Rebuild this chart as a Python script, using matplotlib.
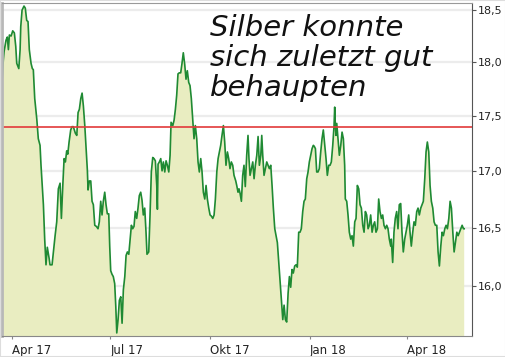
import numpy as np
import pandas as pd
import matplotlib
matplotlib.use("Agg")
import matplotlib.pyplot as plt
from matplotlib.ticker import FixedLocator, FuncFormatter, NullLocator
from matplotlib.patches import Rectangle

# silver price (days counted from 1 Apr 2017)
start = pd.Timestamp("2017-04-01")
days = [
    -9.2, -7.8, -7.1, -5.3, -4.1, -3.1, -2.2, -0.6, 0.9, 2.4, 3.7, 4.6, 6.5, 7.7, 8.3, 9.5,
    11.3, 12.5, 13.8, 15.0, 16.2, 17.8, 19.0, 19.9, 21.2, 23.1, 24.5, 26.1, 27.0, 28.2, 29.2,
    30.4, 31.6, 32.8, 34.4, 35.3, 37.2, 38.4, 40.0, 41.5, 43.0, 44.6, 45.8, 47.1, 48.3, 49.5,
    50.7, 51.7, 52.9, 54.4, 55.6, 56.8, 58.7, 60.0, 61.2, 62.4,
    63.7, 64.9, 66.1, 67.4, 68.6, 69.8, 70.4, 71.6, 72.9, 74.1, 75.3, 76.6, 78.1, 79.6, 80.8,
    82.1, 83.3, 84.5, 85.8, 87.0, 88.2, 89.5, 90.4, 91.3, 92.5, 93.7, 95.0, 96.0, 96.9, 98.1,
    99.3, 100.6, 101.8, 103.0, 104.3, 105.5, 106.7, 108.0, 109.2, 110.4, 111.6, 112.8, 114.0,
    115.3, 116.5, 117.7, 119.0, 120.2, 121.4, 122.7, 123.9, 124.8, 126.4, 127.6, 128.8, 130.1,
    131.3, 132.5, 133.8, 134.4,
    135.0, 136.2, 137.5, 138.7, 139.9, 141.2, 142.4, 143.6, 144.9, 146.1, 147.0, 148.6, 149.8,
    151.0, 152.2, 153.4, 154.6, 155.9, 157.1, 158.3, 159.6, 160.8, 162.0, 163.3, 164.5, 165.7,
    167.0, 168.2, 169.4, 170.7, 171.9, 173.1, 174.4, 175.6, 176.8, 178.1, 179.3, 180.5, 181.8,
    183.0, 184.2, 185.5, 186.7, 187.9, 189.2, 190.4, 191.6, 192.8, 194.0, 195.3, 196.5, 197.7,
    199.0, 200.2, 201.4, 202.6, 203.9, 205.1, 206.7,
    207.6, 208.8, 209.7, 210.7, 211.9, 213.1, 214.3, 215.5, 216.8, 218.0, 218.9, 219.9, 221.1,
    222.4, 223.6, 224.8, 226.1, 227.3, 228.5, 229.8, 230.7, 231.6, 232.8, 234.0, 235.3, 236.5,
    237.7, 239.0, 240.2, 241.4, 242.7, 243.9, 245.1, 246.4, 247.6, 248.8, 250.1, 251.3, 252.5,
    253.7, 255.0, 256.2, 257.4, 258.6, 259.8, 261.1, 262.3, 263.5, 264.8, 266.0, 267.2, 268.5,
    269.7, 270.9, 272.2, 273.4, 274.6, 275.9, 277.1, 278.3,
    279.2, 280.2, 281.4, 282.6, 283.8, 285.1, 286.3, 287.5, 288.8, 290.0, 291.2, 292.5, 293.7,
    294.9, 296.2, 297.4, 298.0, 298.6, 299.2, 299.9, 301.1, 302.3, 303.6, 304.8, 306.0, 307.2,
    307.8, 309.1, 310.3, 311.5, 312.8, 314.0, 315.2, 316.5, 317.7, 318.9, 320.2, 321.4, 322.6,
    323.9, 325.1, 326.3, 327.5, 328.8, 330.0, 331.2, 332.5, 333.7, 334.9, 336.1, 337.4, 338.6,
    339.8, 341.1, 342.3, 343.5, 344.8, 346.0, 347.2, 348.4, 349.7,
    350.2, 351.5, 352.7, 353.9, 355.2, 356.4, 357.6, 358.9, 360.1, 361.3, 362.6, 363.8, 365.0,
    366.3, 367.5, 368.7, 370.0, 371.2, 372.4, 373.7, 374.9, 376.1, 377.4, 378.6, 379.8, 381.1,
    382.3, 383.5, 384.8, 386.0, 387.2, 388.5, 389.7, 390.9, 392.2, 393.4, 394.6, 395.9, 397.1,
    398.3, 399.6, 400.8, 402.0, 403.3, 404.5, 405.7, 407.0, 408.2, 409.4, 410.7, 411.9, 413.1,
    414.4, 415.6, 416.8, 417.5,
]
prices = [
    17.78, 18.02, 18.10, 18.21, 18.24, 18.12, 18.26, 18.25, 18.30, 18.28, 18.15, 17.99, 17.94,
    18.12, 18.34, 18.50, 18.54, 18.52, 18.40, 18.39, 18.12, 17.99, 17.94, 17.93, 17.66, 17.47,
    17.29, 17.23, 17.05, 16.86, 16.70, 16.40, 16.18, 16.33, 16.24, 16.18, 16.18, 16.29, 16.43,
    16.55, 16.84, 16.89, 16.58, 16.87, 17.11, 17.08, 17.18, 17.15, 17.26, 17.37, 17.40, 17.40,
    17.34, 17.32, 17.53, 17.56,
    17.66, 17.71, 17.59, 17.41, 17.20, 17.00, 16.83, 16.91, 16.91, 16.73, 16.70, 16.52, 16.51,
    16.49, 16.55, 16.73, 16.61, 16.73, 16.81, 16.70, 16.62, 16.62, 16.34, 16.13, 16.10, 16.08,
    16.02, 15.83, 15.61, 15.72, 15.88, 15.91, 15.69, 15.97, 16.08, 16.26, 16.29, 16.27, 16.40,
    16.52, 16.49, 16.51, 16.64, 16.58, 16.67, 16.78, 16.81, 16.74, 16.61, 16.67, 16.46, 16.27,
    16.29, 16.61, 16.99, 17.12, 17.11, 17.09, 16.87, 16.66,
    17.06, 17.08, 17.11, 17.00, 17.08, 16.99, 17.09, 17.05, 16.99, 17.14, 17.44, 17.41, 17.46,
    17.56, 17.69, 17.89, 17.90, 17.90, 17.99, 18.09, 17.98, 17.84, 17.92, 17.81, 17.78, 17.66,
    17.47, 17.29, 17.41, 17.29, 17.08, 16.99, 17.11, 16.99, 16.81, 16.75, 16.87, 16.75, 16.67,
    16.61, 16.60, 16.58, 16.61, 16.75, 16.99, 17.11, 17.17, 17.23, 17.32, 17.41, 17.26, 17.05,
    17.17, 17.11, 17.02, 17.08, 17.05, 16.96, 16.91,
    16.87, 16.81, 16.84, 16.80, 16.73, 16.96, 17.05, 16.86, 17.14, 17.32, 17.11, 16.96, 17.02,
    17.08, 16.93, 17.05, 17.14, 17.31, 17.05, 17.14, 17.32, 17.14, 16.96, 17.02, 17.08, 17.05,
    17.02, 17.05, 16.87, 16.67, 16.49, 16.43, 16.37, 16.20, 16.05, 15.88, 15.72, 15.84, 15.72,
    15.70, 15.94, 16.08, 15.99, 16.14, 16.11, 16.17, 16.18, 16.16, 16.46, 16.46, 16.49, 16.64,
    16.73, 16.75, 16.93, 16.99, 17.08, 17.14, 17.20, 17.23,
    17.22, 17.20, 16.99, 16.99, 17.02, 17.17, 17.29, 17.37, 17.23, 17.11, 16.96, 17.05, 17.05,
    17.08, 17.23, 17.41, 17.58, 17.41, 17.32, 17.43, 17.29, 17.14, 17.23, 17.35, 17.29, 17.05,
    16.75, 16.73, 16.61, 16.46, 16.40, 16.43, 16.34, 16.55, 16.58, 16.87, 16.84, 16.70, 16.67,
    16.52, 16.46, 16.64, 16.61, 16.49, 16.52, 16.61, 16.46, 16.52, 16.55, 16.46, 16.49, 16.75,
    16.64, 16.58, 16.61, 16.52, 16.49, 16.52, 16.49, 16.40, 16.34,
    16.40, 16.20, 16.46, 16.58, 16.64, 16.49, 16.70, 16.71, 16.46, 16.29, 16.40, 16.46, 16.52,
    16.61, 16.46, 16.34, 16.46, 16.55, 16.52, 16.64, 16.67, 16.61, 16.67, 16.70, 16.73, 16.93,
    17.17, 17.26, 17.17, 16.87, 16.73, 16.67, 16.55, 16.52, 16.52, 16.29, 16.17, 16.34, 16.46,
    16.43, 16.49, 16.52, 16.49, 16.58, 16.73, 16.67, 16.46, 16.29, 16.37, 16.46, 16.43, 16.46,
    16.49, 16.52, 16.49, 16.49,
]
ref_level = 17.4
y_ticks = [16.0, 16.5, 17.0, 17.5, 18.0, 18.5]
x_tick_dates = ["2017-04-01", "2017-07-01", "2017-10-01", "2018-01-01", "2018-04-01"]
x_tick_labels = ["Apr 17", "Jul 17", "Okt 17", "Jan 18", "Apr 18"]
note = "Silber konnte\nsich zuletzt gut\nbehaupten"

dates = start + pd.to_timedelta(days, unit="D")

fig = plt.figure(figsize=(5.06, 3.57), dpi=100)
ax = fig.add_axes([2 / 506, 21 / 357, 470 / 506, 333 / 357])

ax.fill_between(dates, prices, 15.0, color="#e9edc1", lw=0)
ax.plot(dates, prices, color="#1f8a33", lw=1.2)
ax.axhline(ref_level, color="#e23a3a", lw=1.2)

ax.set_yscale("log")
ax.set_ylim(15.585, 18.57)
ax.set_xlim(start - pd.Timedelta(days=9), start + pd.Timedelta(days=424.7))
ax.yaxis.set_major_locator(FixedLocator(y_ticks))
ax.yaxis.set_minor_locator(NullLocator())
ax.yaxis.set_major_formatter(FuncFormatter(lambda v, p: f"{v:.1f}".replace(".", ",")))
ax.yaxis.tick_right()
ax.grid(axis="y", color="#ececec", lw=1.6)
ax.set_axisbelow(True)

ax.set_xticks(pd.to_datetime(x_tick_dates))
ax.set_xticklabels(x_tick_labels, ha="left")
ax.tick_params(axis="x", length=2, color="#888888", labelsize=8.5, pad=4, labelcolor="#222222")
ax.tick_params(axis="y", length=3, color="#555555", labelsize=8, pad=1.5, labelcolor="#222222")

ax.spines["left"].set_color("#b8b8b8")
ax.spines["left"].set_linewidth(2)
ax.spines["top"].set_color("#999999")
ax.spines["bottom"].set_color("#888888")
ax.spines["right"].set_color("#555555")

fig.text(210 / 506, 1 - 14 / 357, note, va="top", ha="left", fontsize=21,
         style="italic", color="#111111", linespacing=1.1)

fig.patches.append(Rectangle((0, 0), 1, 1, transform=fig.transFigure, fill=False,
                             edgecolor="#dddddd", lw=1.5))

fig.savefig("out.png", dpi=100)
